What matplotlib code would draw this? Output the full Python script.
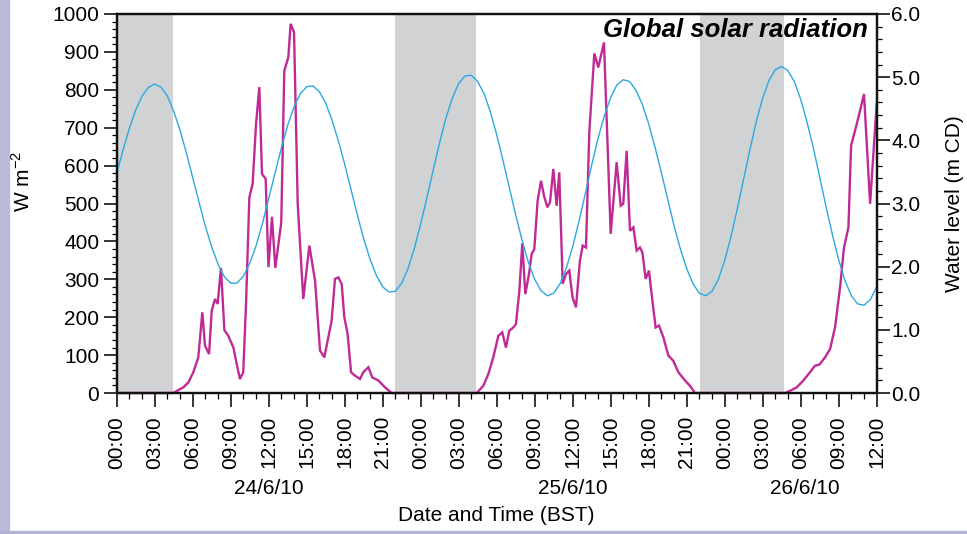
import numpy as np
import matplotlib
matplotlib.use("Agg")
import matplotlib.pyplot as plt
from matplotlib.patches import Rectangle
from matplotlib.ticker import MultipleLocator, FixedLocator, FuncFormatter
from matplotlib.transforms import blended_transform_factory

plt.rcParams['font.family'] = ['Liberation Sans', 'DejaVu Sans']
plt.rcParams['mathtext.fontset'] = 'custom'
plt.rcParams['mathtext.rm'] = 'Liberation Sans'

# ---------------- data (hours since 00:00 24/6/10) ----------------
night_start = [0.0, 21.97, 46.03]
night_end = [4.47, 28.37, 52.70]

rad_hours = [0, 4.45, 5.26, 5.66, 6.05, 6.44, 6.76, 6.97, 7.29, 7.50, 7.76, 7.97, 8.23, 8.50,
             8.81, 9.21, 9.47, 9.73, 9.99, 10.21, 10.47, 10.73, 11.0, 11.26, 11.47, 11.76,
             11.98, 12.26, 12.52, 12.99, 13.23, 13.55, 13.73, 14.0, 14.29, 14.73, 15.21,
             15.66, 16.05, 16.39, 16.71, 16.97, 17.23, 17.50, 17.76, 17.97, 18.23, 18.50,
             18.81, 19.21, 19.47, 19.87, 20.18, 20.66, 21.18, 21.71,
             28.42, 28.94, 29.34, 29.73, 30.13, 30.44, 30.73, 30.99, 31.31, 31.52, 31.79,
             32.02, 32.26, 32.55, 32.76, 32.97, 33.23, 33.50, 33.73, 34.0, 34.21, 34.47,
             34.73, 34.94, 35.21, 35.47, 35.73, 35.99, 36.26, 36.57, 36.79, 37.05, 37.31,
             37.71, 38.02, 38.47, 39.0, 39.47, 39.79, 39.99, 40.26, 40.52, 40.79, 41.05,
             41.31, 41.50, 41.76, 42.02, 42.29, 42.55, 42.81, 43.16, 43.55, 43.94, 44.34,
             44.87, 45.26, 45.66,
             52.76, 53.29, 53.69, 54.21, 54.74, 55.13, 55.48, 55.92, 56.32, 56.71, 57.11,
             57.42, 57.77, 57.98, 58.29, 58.69, 59.0, 59.48, 60.0]
rad_wm2 = [0, 0, 15, 28, 55, 94, 213, 125, 103, 217, 248, 235, 330, 166,
           151, 120, 77, 37, 55, 235, 516, 551, 710, 807, 578, 565,
           332, 465, 330, 450, 850, 886, 974, 952, 499, 248, 389,
           296, 112, 94, 147, 191, 301, 305, 288, 200, 156, 55,
           46, 37, 55, 68, 41, 33, 15, 0,
           0, 19, 50, 94, 151, 160, 120, 164, 173, 182, 270,
           395, 261, 314, 367, 380, 507, 560, 521, 490, 503, 591,
           494, 582, 288, 314, 323, 252, 226, 349, 389, 384, 688,
           896, 859, 925, 420, 609, 494, 499, 639, 428, 437, 376,
           384, 371, 301, 323, 244, 173, 178, 147, 99, 85, 55,
           33, 19, 0,
           0, 8, 15, 33, 55, 72, 75, 94, 116, 173, 279,
           384, 437, 653, 692, 745, 789, 499, 763]

tide_hours = list(np.arange(0, 60.01, 0.5))
tide_m = [3.47, 3.85, 4.19, 4.48, 4.70, 4.84, 4.89, 4.84, 4.70, 4.46, 4.16, 3.80, 3.41,
          3.02, 2.64, 2.31, 2.04, 1.84, 1.74, 1.74, 1.85, 2.05, 2.33, 2.68, 3.08, 3.48,
          3.88, 4.24, 4.53, 4.74, 4.85, 4.86, 4.77, 4.59, 4.32, 3.99, 3.62, 3.22, 2.82,
          2.44, 2.12, 1.86, 1.68, 1.60, 1.61, 1.74, 1.97, 2.29, 2.68, 3.10, 3.54, 3.97,
          4.36, 4.67, 4.90, 5.02, 5.03, 4.93, 4.74, 4.45, 4.09, 3.68, 3.25, 2.82, 2.42,
          2.07, 1.80, 1.62, 1.54, 1.58, 1.73, 1.98, 2.32, 2.72, 3.16, 3.61, 4.03, 4.39,
          4.68, 4.88, 4.96, 4.93, 4.79, 4.57, 4.26, 3.89, 3.49, 3.07, 2.65, 2.28, 1.97,
          1.73, 1.58, 1.54, 1.61, 1.80, 2.10, 2.48, 2.92, 3.39, 3.86, 4.30, 4.67, 4.95,
          5.12, 5.17, 5.10, 4.93, 4.65, 4.29, 3.88, 3.42, 2.95, 2.51, 2.11, 1.78, 1.54,
          1.41, 1.39, 1.48, 1.68]

date_labels = ['24/6/10', '25/6/10', '26/6/10']
date_label_hours = [12, 36, 54.3]
x_tick_hours = list(range(0, 61, 3))
x_tick_labels = [f"{h % 24:02d}:00" for h in x_tick_hours]

# ---------------- figure ----------------
fig = plt.figure(figsize=(9.67, 5.34), dpi=100)
fig.patches.append(Rectangle((0, 0), 9 / 967, 1, transform=fig.transFigure,
                             color='#bab9d7', zorder=-5))
fig.patches.append(Rectangle((0, 0), 1, 3.5 / 534, transform=fig.transFigure,
                             color='#b3b2d2', zorder=-5))

ax = fig.add_axes([0.1207, 0.2640, 0.7859, 0.7098])
ax.set_xlim(0, 60)
ax.set_ylim(0, 1000)

for s, e in zip(night_start, night_end):
    ax.axvspan(s, e, color='#d1d2d4', lw=0, zorder=0)

magenta = '#bf2a96'
blue = '#2aa9e0'
ax.plot(rad_hours, rad_wm2, color=magenta, lw=1.7, zorder=3, clip_on=False,
        solid_joinstyle='miter')

ax.set_xticks(x_tick_hours)
ax.set_xticklabels(x_tick_labels)
ax.xaxis.set_minor_locator(MultipleLocator(1))
ax.yaxis.set_major_locator(MultipleLocator(100))
ax.yaxis.set_minor_locator(MultipleLocator(20))

ax.tick_params(axis='x', which='major', direction='out', length=10, width=1.1,
               pad=6.5, labelsize=15, labelrotation=90)
ax.tick_params(axis='x', which='minor', direction='out', length=4, width=0.9)
ax.tick_params(axis='y', which='major', direction='out', length=9.5, width=1.1,
               pad=3, labelsize=15)
ax.tick_params(axis='y', which='minor', direction='out', length=3.8, width=0.9)

ax2 = ax.twinx()
ax2.set_ylim(0, 6)
ax2.plot(tide_hours, tide_m, color=blue, lw=1.0, zorder=2)
ax2.yaxis.set_major_locator(MultipleLocator(1))
ax2.yaxis.set_minor_locator(MultipleLocator(0.2))
ax2.yaxis.set_major_formatter(FuncFormatter(lambda v, p: f"{v:.1f}"))
ax2.tick_params(axis='y', which='major', direction='out', length=9.5, width=1.1,
                pad=1, labelsize=15)
ax2.tick_params(axis='y', which='minor', direction='out', length=3.8, width=0.9)

for a in (ax, ax2):
    for sp in a.spines.values():
        sp.set_linewidth(1.6)
        sp.set_color('#111111')

ax.text(0.988, 0.99, 'Global solar radiation', transform=ax.transAxes,
        ha='right', va='top', fontsize=18.5, fontweight='bold', fontstyle='italic',
        zorder=6)

ax.text(-0.1246, 0.557, r'W m$^{\mathregular{-2}}$', transform=ax.transAxes,
        rotation=90, ha='center', va='center', fontsize=15)
ax.text(1.103, 0.5, 'Water level (m CD)', transform=ax.transAxes,
        rotation=90, ha='center', va='center', fontsize=15)

trans = blended_transform_factory(ax.transData, ax.transAxes)
for lbl, h in zip(date_labels, date_label_hours):
    ax.text(h, -0.2507, lbl, transform=trans, ha='center', va='center', fontsize=15)

ax.text(0.5, -0.322, 'Date and Time (BST)', transform=ax.transAxes,
        ha='center', va='center', fontsize=15)

fig.savefig('out.png', dpi=100)
